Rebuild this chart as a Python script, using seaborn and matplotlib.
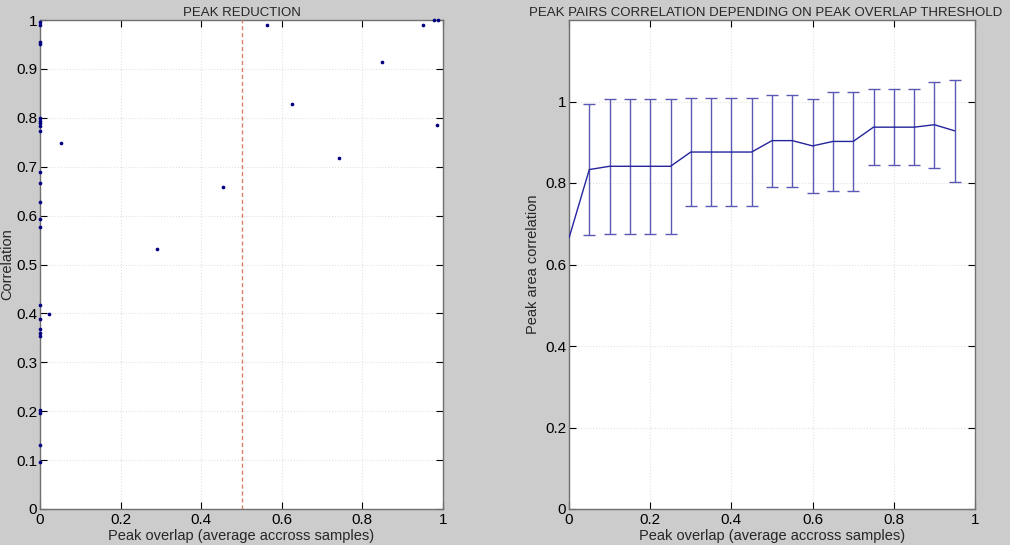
import numpy as np
import pandas as pd
import matplotlib
matplotlib.use('Agg')
import matplotlib.pyplot as plt
import seaborn as sns

# Left panel: peak overlap vs correlation (scatter)
overlap = [0.0, 0.0, 0.0, 0.0, 0.0, 0.0, 0.0, 0.0, 0.0, 0.0, 0.0, 0.0, 0.0, 0.0,
           0.0, 0.0, 0.0, 0.0, 0.0, 0.0, 0.0, 0.0, 0.0,
           0.052, 0.022, 0.29, 0.454, 0.563, 0.625, 0.742, 0.849, 0.95, 0.978, 0.988, 0.985]
correlation = [0.995, 0.99, 0.956, 0.95, 0.799, 0.794, 0.789, 0.783, 0.774, 0.69, 0.667,
               0.628, 0.594, 0.577, 0.417, 0.388, 0.369, 0.359, 0.354, 0.202, 0.196, 0.131, 0.097,
               0.748, 0.399, 0.532, 0.658, 0.99, 0.828, 0.718, 0.914, 0.99, 1.0, 1.0, 0.785]
threshold = 0.5

# Right panel: mean correlation per overlap threshold with spread
thresholds = [0.0, 0.05, 0.1, 0.15, 0.2, 0.25, 0.3, 0.35, 0.4, 0.45,
              0.5, 0.55, 0.6, 0.65, 0.7, 0.75, 0.8, 0.85, 0.9, 0.95]
mean_corr = [0.665, 0.833, 0.841, 0.841, 0.841, 0.841, 0.876, 0.876, 0.876, 0.876,
             0.904, 0.904, 0.891, 0.902, 0.902, 0.937, 0.937, 0.937, 0.943, 0.928]
err_corr = [0.0, 0.16, 0.166, 0.166, 0.166, 0.166, 0.132, 0.132, 0.132, 0.132,
            0.113, 0.113, 0.116, 0.122, 0.122, 0.093, 0.093, 0.093, 0.106, 0.125]

sns.set_style('ticks')
plt.rcParams['font.family'] = ['Liberation Sans', 'DejaVu Sans']

bg = '#cccccc'
fig = plt.figure(figsize=(10.1, 5.45), dpi=100, facecolor=bg)
ax1 = fig.add_axes([40 / 1010, 36 / 545, 403 / 1010, 489 / 545])
ax2 = fig.add_axes([569 / 1010, 36 / 545, 406 / 1010, 489 / 545])

df_left = pd.DataFrame({'overlap': overlap, 'correlation': correlation})
sns.scatterplot(data=df_left, x='overlap', y='correlation', ax=ax1, color='#000080',
                s=7, marker='o', linewidth=0, clip_on=False, zorder=6)
ax1.axvline(threshold, color='#d9826a', linestyle=(0, (3, 2)), linewidth=1)
ax1.set_xlim(0, 1)
ax1.set_ylim(0, 1)
ax1.set_xticks(np.arange(0, 1.01, 0.2))
ax1.set_yticks(np.arange(0, 1.01, 0.1))
ax1.set_xticklabels(['0', '0.2', '0.4', '0.6', '0.8', '1'])
ax1.set_yticklabels(['0', '0.1', '0.2', '0.3', '0.4', '0.5', '0.6', '0.7', '0.8', '0.9', '1'])
ax1.set_title('PEAK REDUCTION', fontsize=9.5, pad=3)
ax1.set_ylabel('Correlation', fontsize=10.5, labelpad=1)
ax1.set_xlabel('Peak overlap (average accross samples)', fontsize=10.5, labelpad=1)

df_right = pd.DataFrame({'threshold': thresholds, 'mean': mean_corr})
ax2.errorbar(thresholds[1:], mean_corr[1:], yerr=err_corr[1:], fmt='none',
             ecolor='#5a5ab4', elinewidth=1, capsize=4, capthick=1)
sns.lineplot(data=df_right, x='threshold', y='mean', ax=ax2, color='#24249c',
             linewidth=1, zorder=4)
ax2.set_xlim(0, 1)
ax2.set_ylim(0, 1.2)
ax2.set_xticks(np.arange(0, 1.01, 0.2))
ax2.set_yticks(np.arange(0, 1.01, 0.2))
ax2.set_xticklabels(['0', '0.2', '0.4', '0.6', '0.8', '1'])
ax2.set_yticklabels(['0', '0.2', '0.4', '0.6', '0.8', '1'])
ax2.set_title('PEAK PAIRS CORRELATION DEPENDING ON PEAK OVERLAP THRESHOLD', fontsize=9.5,
              pad=3, x=0.485)
ax2.set_ylabel('Peak area correlation', fontsize=10.5, labelpad=4)
ax2.set_xlabel('Peak overlap (average accross samples)', fontsize=10.5, labelpad=1)

for ax in (ax1, ax2):
    ax.set_facecolor('white')
    ax.grid(True, color='#e2e2e2', linestyle=':', linewidth=0.8)
    ax.tick_params(direction='in', length=5, top=True, right=True, labelsize=11,
                   colors='black', pad=2)
    ax.tick_params(axis='x', pad=3)
    for sp in ax.spines.values():
        sp.set_visible(True)
        sp.set_color('#707070')
        sp.set_linewidth(1)
        sp.set_zorder(1)

fig.savefig('out.png', dpi=100, facecolor=bg)
